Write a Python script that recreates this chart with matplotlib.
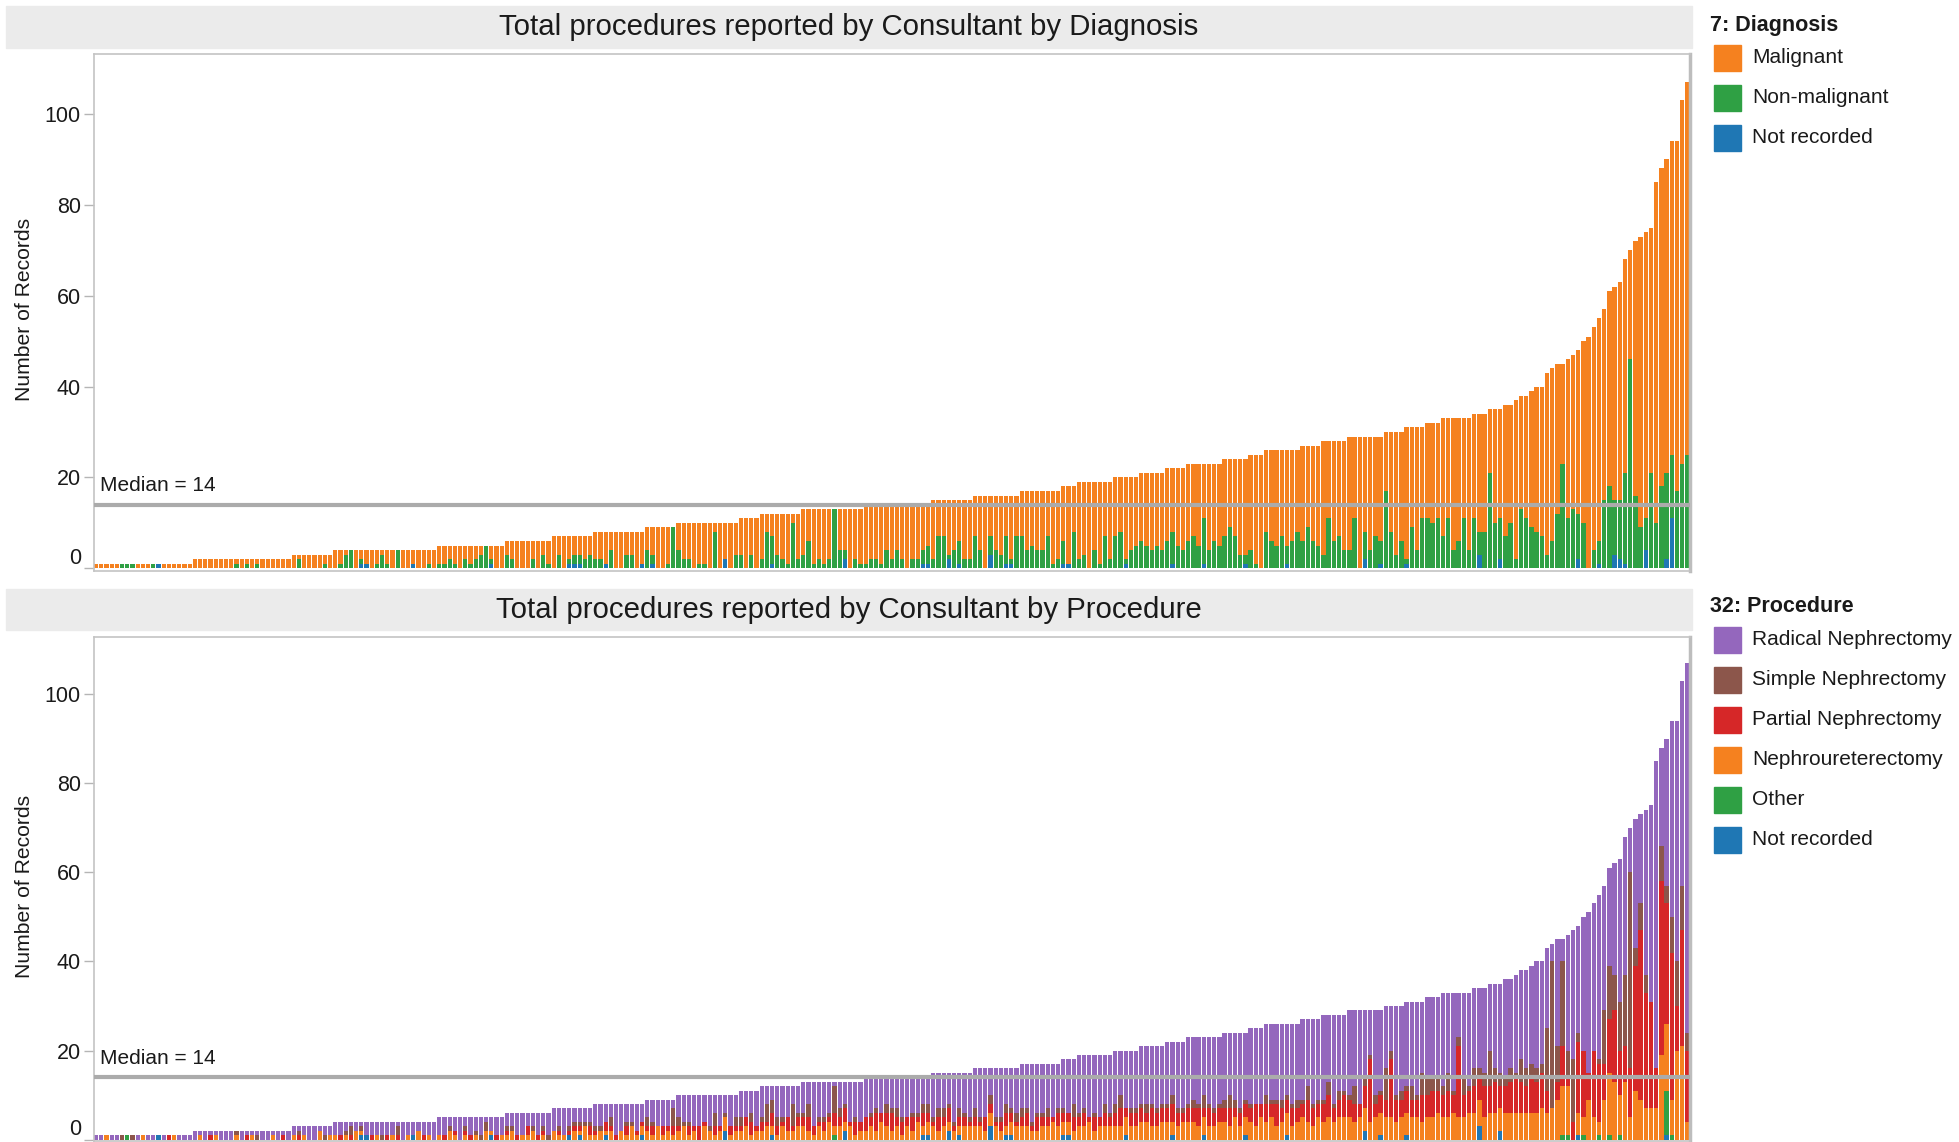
import numpy as np
import matplotlib
matplotlib.use("Agg")
import matplotlib.pyplot as plt
from matplotlib.patches import Rectangle
from matplotlib.transforms import ScaledTranslation

plt.rcParams['font.family'] = ['Liberation Sans', 'DejaVu Sans']

# ---------------- data ----------------
# consultants sorted by total procedures: (value, number of consultants)
level_values = list(range(1, 41))
level_counts = [19, 19, 8, 20, 13, 9, 8, 10, 6, 12, 4, 8, 12, 13, 8, 9, 8, 3, 7, 5,
                5, 4, 7, 5, 3, 7, 4, 5, 7, 4, 4, 3, 6, 3, 3, 2, 1, 2, 1, 2]
tail_totals = [43, 44, 45, 45, 46, 47, 48, 50, 51, 53, 55, 57, 61, 62, 63, 68, 70, 72,
               73, 74, 75, 85, 88, 90, 94, 94, 103, 107]

nonmalignant = (
    [0, 0, 0, 0, 0, 1, 1, 1, 0, 0, 0, 1, 0, 0, 0, 0, 0, 0, 0] +
    [0, 0, 0, 0, 0, 0, 0, 0, 1, 0, 1, 0, 1, 0, 0, 0, 0, 0, 0] +
    [0, 2, 0, 0, 0, 0, 1, 0] +
    [0, 1, 3, 4, 0, 1, 0, 0, 1, 3, 1, 0, 4, 0, 0, 0, 0, 0, 1, 0] +
    [1, 1, 2, 1, 0, 2, 1, 2, 3, 5, 1, 0, 0] +
    [3, 2, 0, 0, 0, 2, 0, 3, 1] +
    [0, 3, 0, 1, 2, 2, 2, 3] +
    [2, 2, 0, 4, 0, 0, 3, 3, 0, 0] +
    [4, 2, 0, 0, 1, 9] +
    [4, 2, 2, 0, 1, 1, 0, 8, 0, 0, 0, 3] +
    [3, 0, 3, 0] +
    [2, 8, 6, 3, 2, 1, 10, 2] +
    [3, 6, 1, 2, 1, 2, 13, 4, 2, 0, 2, 1] +
    [1, 2, 2, 1, 4, 2, 4, 2, 0, 2, 2, 3, 4] +
    [2, 7, 7, 1, 4, 5, 2, 2] +
    [7, 4, 0, 4, 4, 3, 6, 1, 7] +
    [7, 4, 5, 4, 4, 7, 1, 2] +
    [5, 0, 8] +
    [2, 3, 0, 4, 1, 7, 2] +
    [7, 8, 1, 4, 5] +
    [6, 5, 4, 5, 4] +
    [6, 7, 5, 4] +
    [6, 7, 5, 10, 4, 6, 5] +
    [7, 9, 7, 3, 2] +
    [4, 1, 0] +
    [8, 6, 5, 7, 4, 6, 8] +
    [6, 9, 6, 5] +
    [3, 11, 6, 7, 4] +
    [4, 11, 0, 6, 4, 7, 5] +
    [17, 8, 3, 6] +
    [1, 9, 4, 11] +
    [11, 10, 11] +
    [7, 11, 4, 6, 11, 4] +
    [11, 5, 8] +
    [21, 10, 9] +
    [7, 10] + [2] + [13, 11] + [9] + [8, 7] +
    [3, 6, 12, 23, 11, 13, 10, 10, 0, 4, 5, 15, 18, 12, 13, 20, 46, 16, 9, 7,
     21, 10, 18, 19, 14, 17, 23, 25]
)
diag_not_recorded = (
    [0] * 12 + [1] + [0] * 6 +
    [0] * 19 +
    [0] * 8 +
    [0, 0, 0, 0, 0, 1, 1, 0, 0, 0, 0, 0, 0, 0, 0, 1, 0, 0, 0, 0] +
    [0] * 10 + [1] + [0, 0] +
    [0] * 9 +
    [0, 0, 0, 1, 1, 1, 0, 0] +
    [0, 0, 1, 0, 0, 0, 0, 0, 0, 1] +
    [0, 1, 0, 0, 0, 0] +
    [0] * 9 + [2, 0, 0] +
    [0] * 4 +
    [0, 0, 1, 0, 0, 0, 0, 0] +
    [0] * 8 + [2, 0, 0, 0] +
    [0] * 11 + [1, 1] +
    [0, 0, 0, 2, 0, 1, 0, 0] +
    [0, 0, 0, 3, 0, 0, 1, 1, 0] +
    [0] * 8 +
    [1, 1, 0] +
    [0] * 7 +
    [0, 0, 1, 0, 0] +
    [0] * 5 +
    [0, 1, 0, 0] +
    [0, 0, 0, 1, 0, 0, 0] +
    [0, 0, 0, 0, 1] +
    [0] * 3 +
    [0, 0, 0, 0, 1, 0, 0] +
    [0] * 4 +
    [0] * 5 +
    [0, 0, 0, 2, 0, 0, 1] +
    [0] * 4 +
    [1, 0, 0, 0] +
    [0] * 3 +
    [0] * 6 +
    [0, 3, 0] +
    [0, 0, 2] +
    [0] * 8 +
    [0, 0, 0, 0, 0, 0, 2, 0, 0, 0, 1, 0, 0, 3, 2, 1, 0, 0, 0, 4,
     0, 0, 0, 2, 11, 0, 0, 0]
)

# Procedure breakdown per consultant (same order); Radical = remainder of total
neph_ureter = (
    [0, 0, 1, 0, 0, 0, 0, 0, 0, 1, 0, 0, 0, 0, 0, 1, 0, 0, 0] +
    [0, 1, 0, 0, 1, 0, 0, 0, 1, 0, 0, 1, 0, 0, 0, 1, 0, 0, 0] +
    [1, 0, 1, 0, 0, 2, 0, 1] +
    [1, 0, 1, 0, 2, 1, 0, 0, 1, 0, 0, 1, 0, 0, 1, 0, 2, 0, 1, 0] +
    [1, 0, 2, 1, 0, 1, 0, 1, 0, 2, 1, 0, 1] +
    [1, 2, 0, 1, 1, 2, 0, 1, 0] +
    [2, 1, 1, 0, 2, 1, 3, 1] +
    [1, 2, 1, 2, 0, 2, 1, 3, 1, 2] +
    [2, 1, 3, 1, 2, 1] +
    [2, 3, 1, 2, 0, 3, 2, 1, 2, 3, 1, 2] +
    [2, 3, 1, 2] +
    [2, 3, 2, 1, 3, 2, 2, 3] +
    [3, 2, 1, 3, 2, 4, 2, 3, 2, 3, 1, 2] +
    [2, 3, 2, 4, 3, 2, 3, 1, 3, 2, 4, 2, 3] +
    [3, 2, 3, 2, 2, 2, 3, 3] +
    [3, 3, 2, 3, 3, 2, 2, 3, 3] +
    [3, 3, 2, 2, 3, 3, 4, 3] +
    [3, 3, 2] +
    [3, 3, 4, 2, 3, 3, 3] +
    [3, 3, 4, 3, 3] +
    [4, 4, 3, 3, 4] +
    [4, 3, 3, 4] +
    [4, 4, 3, 4, 3, 3, 4] +
    [4, 3, 5, 3, 4] +
    [4, 3, 5] +
    [4, 5, 3, 4, 5, 3, 4] +
    [5, 4, 3, 5] +
    [4, 5, 4, 5, 5] +
    [5, 4, 5, 5, 4, 5, 5] +
    [5, 5, 4, 5] +
    [5, 5, 5, 4] +
    [5, 5, 6] +
    [5, 5, 6, 5, 5, 6] +
    [6, 6, 5] +
    [6, 6, 5] +
    [6, 6] + [6] + [6, 6] + [6] + [6, 7] +
    [6, 7, 9, 11, 11, 0, 5, 4, 9, 5, 3, 9, 14, 13, 9, 13, 5, 11, 9, 7,
     7, 7, 19, 15, 8, 20, 21, 4]
)
partial = (
    [0] * 14 + [1] + [0] * 4 +
    [0, 0, 0, 1, 0, 0, 0, 0, 0, 0, 1, 0, 0, 0, 0, 0, 0, 1, 0] +
    [0, 1, 0, 0, 0, 0, 0, 0] +
    [0, 1, 0, 1, 0, 0, 0, 1, 0, 0, 1, 0, 1, 0, 0, 0, 0, 1, 0, 0] +
    [0, 1, 0, 1, 0, 1, 1, 0, 0, 0, 0, 1, 0] +
    [1, 0, 1, 0, 2, 0, 1, 1, 0] +
    [0, 1, 0, 1, 1, 1, 0, 2] +
    [1, 0, 2, 1, 1, 0, 2, 0, 1, 1] +
    [1, 2, 0, 2, 1, 2] +
    [1, 0, 2, 1, 3, 1, 0, 2, 1, 0, 2, 1] +
    [1, 2, 3, 1] +
    [2, 1, 3, 2, 1, 3, 1, 2] +
    [2, 3, 2, 1, 2, 1, 3, 2, 3, 1, 3, 2] +
    [3, 2, 4, 2, 3, 4, 2, 3, 2, 3, 1, 3, 2] +
    [1, 3, 2, 3, 1, 2, 2, 1] +
    [2, 1, 3, 2, 1, 2, 3, 2, 1] +
    [2, 3, 1, 3, 2, 2, 1, 3] +
    [2, 2, 3] +
    [2, 3, 1, 3, 2, 3, 2] +
    [3, 4, 2, 3, 3] +
    [3, 2, 4, 3, 3] +
    [3, 4, 3, 2] +
    [3, 3, 4, 2, 4, 3, 3] +
    [3, 4, 2, 3, 3] +
    [3, 5, 3] +
    [4, 3, 5, 3, 3, 4, 3] +
    [3, 5, 4, 3] +
    [4, 5, 3, 4, 5] +
    [4, 4, 3, 5, 14, 3, 4] +
    [4, 13, 5, 4] +
    [5, 4, 4, 6] +
    [5, 6, 5] +
    [5, 6, 4, 16, 5, 5] +
    [6, 5, 7] +
    [6, 7, 5] +
    [6, 7] + [8] + [7, 6] + [8] + [7, 8] +
    [5, 0, 4, 9, 2, 4, 16, 15, 6, 15, 13, 8, 12, 16, 10, 8, 11, 28, 38, 26,
     24, 9, 39, 27, 33, 10, 26, 16]
)
simple = (
    [0, 0, 0, 0, 0, 1, 0, 1, 0, 0, 0, 0, 0, 0, 0, 0, 0, 0, 0] +
    [0, 0, 0, 0, 0, 0, 0, 0, 1, 0, 0, 0, 1, 0, 0, 0, 0, 0, 0] +
    [0, 1, 0, 0, 0, 0, 1, 0] +
    [0, 0, 1, 2, 0, 1, 0, 0, 0, 1, 0, 0, 2, 0, 0, 0, 0, 0, 0, 0] +
    [0, 0, 1, 0, 0, 1, 0, 1, 1, 2, 0, 0, 0] +
    [1, 1, 0, 0, 0, 1, 0, 1, 1] +
    [0, 1, 0, 1, 1, 1, 1, 1] +
    [1, 1, 0, 2, 0, 0, 1, 1, 0, 0] +
    [2, 1, 0, 0, 0, 4] +
    [2, 1, 1, 0, 0, 0, 1, 3, 0, 1, 0, 2] +
    [2, 0, 2, 0] +
    [1, 4, 3, 2, 1, 0, 5, 1] +
    [1, 3, 0, 1, 1, 1, 6, 2, 1, 0, 1, 0] +
    [0, 1, 1, 0, 2, 1, 2, 1, 0, 1, 1, 2, 2] +
    [1, 2, 2, 1, 1, 2, 1, 1] +
    [2, 1, 0, 2, 1, 1, 2, 1, 2] +
    [2, 1, 1, 1, 1, 2, 0, 1] +
    [1, 0, 3] +
    [1, 1, 0, 1, 0, 2, 1] +
    [2, 3, 0, 1, 1] +
    [1, 2, 1, 1, 1] +
    [1, 2, 1, 1] +
    [1, 2, 1, 3, 1, 1, 1] +
    [2, 3, 2, 1, 1] +
    [1, 0, 0] +
    [2, 1, 1, 2, 1, 1, 2] +
    [1, 3, 1, 1] +
    [1, 3, 1, 2, 1] +
    [1, 4, 0, 2, 1, 2, 1] +
    [7, 2, 1, 2] +
    [1, 3, 1, 5] +
    [4, 3, 3] +
    [2, 4, 1, 2, 4, 1] +
    [4, 2, 3] +
    [8, 3, 3] +
    [2, 3] + [1] + [5, 4] + [3] + [3, 2] +
    [14, 33, 8, 19, 6, 14, 2, 0, 0, 0, 1, 12, 12, 8, 11, 16, 44, 4, 6, 4,
     0, 0, 8, 4, 8, 10, 10, 4]
)
other_proc = (
    [0] * 6 + [1] + [0] * 12 +
    [0] * (19 + 8 + 20 + 13 + 9 + 8 + 10 + 6 + 12 + 4 + 8) +
    [0] * 6 + [1] + [0] * 5 +
    [0] * (13 + 8 + 9 + 8 + 3 + 7 + 5 + 5 + 4 + 7 + 5 + 3 + 7 + 4 + 5 + 7 + 4 + 4 + 3 + 6 + 3 + 3 + 2 + 1 + 2 + 1 + 2) +
    [0, 0, 0, 1, 1, 0, 0, 1, 0, 0, 1, 0, 1, 0, 1, 0, 0, 0, 0, 0,
     0, 0, 0, 10, 1, 0, 0, 0]
)
proc_not_recorded = (
    [0] * 12 + [1] + [0] * 6 +
    [0] * (19 + 8) +
    [0, 0, 0, 0, 0, 1, 1, 0, 0, 0, 0, 0, 0, 0, 0, 1, 0, 0, 0, 0] +
    [0] * 10 + [1, 0, 0] +
    [0] * 9 +
    [0, 0, 0, 1, 0, 1, 0, 0] +
    [0, 0, 1, 0, 0, 0, 0, 0, 0, 1] +
    [0] * 6 +
    [0] * 9 + [2, 0, 0] +
    [0] * 4 +
    [0, 0, 1, 0, 0, 0, 0, 0] +
    [0] * 8 + [2, 0, 0, 0] +
    [0] * 11 + [1, 1] +
    [0, 0, 0, 2, 0, 1, 0, 0] +
    [0, 0, 0, 3, 0, 0, 1, 1, 0] +
    [0] * 8 +
    [1, 1, 0] +
    [0] * 7 +
    [0, 0, 1, 0, 0] +
    [0] * 5 +
    [0, 1, 0, 0] +
    [0, 0, 0, 1, 0, 0, 0] +
    [0, 0, 0, 0, 1] +
    [0] * 3 +
    [0, 0, 0, 0, 1, 0, 0] +
    [0] * 4 +
    [0] * 5 +
    [0, 0, 0, 2, 0, 0, 1] +
    [0] * 4 +
    [1, 0, 0, 0] +
    [0] * 3 +
    [0] * 6 +
    [0, 3, 0] +
    [0, 0, 2] +
    [0] * 8 +
    [0, 0, 0, 0, 0, 0, 1, 0, 0, 0, 0, 0, 0, 0, 0, 0, 0, 0, 0, 0,
     0, 0, 0, 1, 0, 0, 0, 0]
)

median_value = 14
diag_labels = ['Malignant', 'Non-malignant', 'Not recorded']
proc_labels = ['Radical Nephrectomy', 'Simple Nephrectomy', 'Partial Nephrectomy',
               'Nephroureterectomy', 'Other', 'Not recorded']

# ---------------- derived ----------------
totals = []
for v, c in zip(level_values, level_counts):
    totals += [v] * c
totals += tail_totals
totals = np.array(totals, dtype=float)
N = len(totals)


def arr(lst):
    a = np.zeros(N)
    a[:min(N, len(lst))] = np.array(lst[:N], dtype=float)
    return a


nonmal = np.minimum(arr(nonmalignant), totals)
dnr = np.minimum(arr(diag_not_recorded), totals - nonmal)
malig = totals - nonmal - dnr

pnr = np.minimum(arr(proc_not_recorded), totals)
ot = np.minimum(arr(other_proc), totals - pnr)
nu = np.minimum(arr(neph_ureter), totals - pnr - ot)
pa = np.minimum(arr(partial), totals - pnr - ot - nu)
si = np.minimum(arr(simple), totals - pnr - ot - nu - pa)
radical = totals - pnr - ot - nu - pa - si

C_ORANGE = '#F5811F'
C_GREEN = '#2FA044'
C_BLUE = '#1F77B4'
C_PURPLE = '#9467BD'
C_BROWN = '#8C564B'
C_RED = '#D62728'
TXT = '#1a1a1a'

# ---------------- figure ----------------
W, H = 1959, 1142
fig = plt.figure(figsize=(W / 100, H / 100), dpi=100)


def fx(px):
    return px / W


def fy(py):
    return 1 - py / H


AX_L, AX_R = 93.5, 1690
ax1 = fig.add_axes([fx(AX_L), fy(571), fx(AX_R - AX_L), (571 - 54) / H])
ax2 = fig.add_axes([fx(AX_L), fy(1141), fx(AX_R - AX_L), (1141 - 637) / H])

# title bands
for (y0, y1, txt) in [(6, 48, 'Total procedures reported by Consultant by Diagnosis'),
                      (589, 630, 'Total procedures reported by Consultant by Procedure')]:
    fig.patches.append(Rectangle((fx(6), fy(y1)), fx(1692 - 6), (y1 - y0) / H,
                                 transform=fig.transFigure, color='#ebebeb', zorder=0))
    fig.text(fx((6 + 1692) / 2), fy((y0 + y1) / 2), txt, ha='center', va='center',
             fontsize=21.2, color=TXT)

x = np.arange(N)
bw = 0.82

# top chart (stack: not recorded, non-malignant, malignant)
ax1.bar(x, dnr, width=bw, color=C_BLUE, linewidth=0)
ax1.bar(x, nonmal, width=bw, bottom=dnr, color=C_GREEN, linewidth=0)
ax1.bar(x, malig, width=bw, bottom=dnr + nonmal, color=C_ORANGE, linewidth=0)

# bottom chart (stack: not recorded, other, nephroureterectomy, partial, simple, radical)
b = np.zeros(N)
for vals, col in [(pnr, C_BLUE), (ot, C_GREEN), (nu, C_ORANGE), (pa, C_RED),
                  (si, C_BROWN), (radical, C_PURPLE)]:
    ax2.bar(x, vals, width=bw, bottom=b, color=col, linewidth=0)
    b = b + vals

for ax, ylo, ytop, ylab_y in [(ax1, -0.6, 113.2, 309), (ax2, -0.3, 112.8, 886)]:
    ax.set_xlim(-0.5, N - 0.5)
    ax.set_ylim(ylo, ytop)
    ax.set_xticks([])
    ax.set_yticks([0, 20, 40, 60, 80, 100])
    ax.tick_params(axis='y', length=7, width=1, color='#b5b5b5', pad=2,
                   labelsize=15.5, labelcolor=TXT)
    for side in ['top', 'left', 'bottom']:
        ax.spines[side].set_color('#c4c4c4')
        ax.spines[side].set_linewidth(1.2)
    ax.spines['right'].set_color('#bdbdbd')
    ax.spines['right'].set_linewidth(2.5)
    # zero label sits slightly above its tick, as in the reference
    for lab in ax.get_yticklabels():
        if lab.get_position()[1] == 0:
            lab.set_transform(lab.get_transform() + ScaledTranslation(0, 9 / 72, fig.dpi_scale_trans))
    ax.axhline(median_value, color='#ababab', lw=3.0, zorder=5)
    ax.annotate(f'Median = {median_value}', xy=(0, median_value),
                xycoords=('axes fraction', 'data'), xytext=(7, 19),
                textcoords='offset pixels', ha='left', va='center', fontsize=15,
                color=TXT, zorder=6,
                bbox=dict(boxstyle='square,pad=0.22', fc='white', ec='none'))
    fig.text(fx(25), fy(ylab_y), 'Number of Records', rotation=90, ha='center',
             va='center', fontsize=15.2, color=TXT)


def legend(title, y_title, labels, colors, y_rows):
    fig.text(fx(1710), fy(y_title), title, fontsize=15.5, fontweight='bold',
             ha='left', va='center', color=TXT)
    for lab, col, yr in zip(labels, colors, y_rows):
        fig.patches.append(Rectangle((fx(1714), fy(yr + 13)), fx(27), 26 / H,
                                     transform=fig.transFigure, color=col))
        fig.text(fx(1752), fy(yr), lab, fontsize=15, ha='left', va='center', color=TXT)


legend('7: Diagnosis', 26, diag_labels, [C_ORANGE, C_GREEN, C_BLUE], [57.5, 97.5, 137.5])
legend('32: Procedure', 606, proc_labels,
       [C_PURPLE, C_BROWN, C_RED, C_ORANGE, C_GREEN, C_BLUE],
       [639.5, 679.5, 719.5, 759.5, 799.5, 839.5])

fig.savefig('out.png', dpi=100)
